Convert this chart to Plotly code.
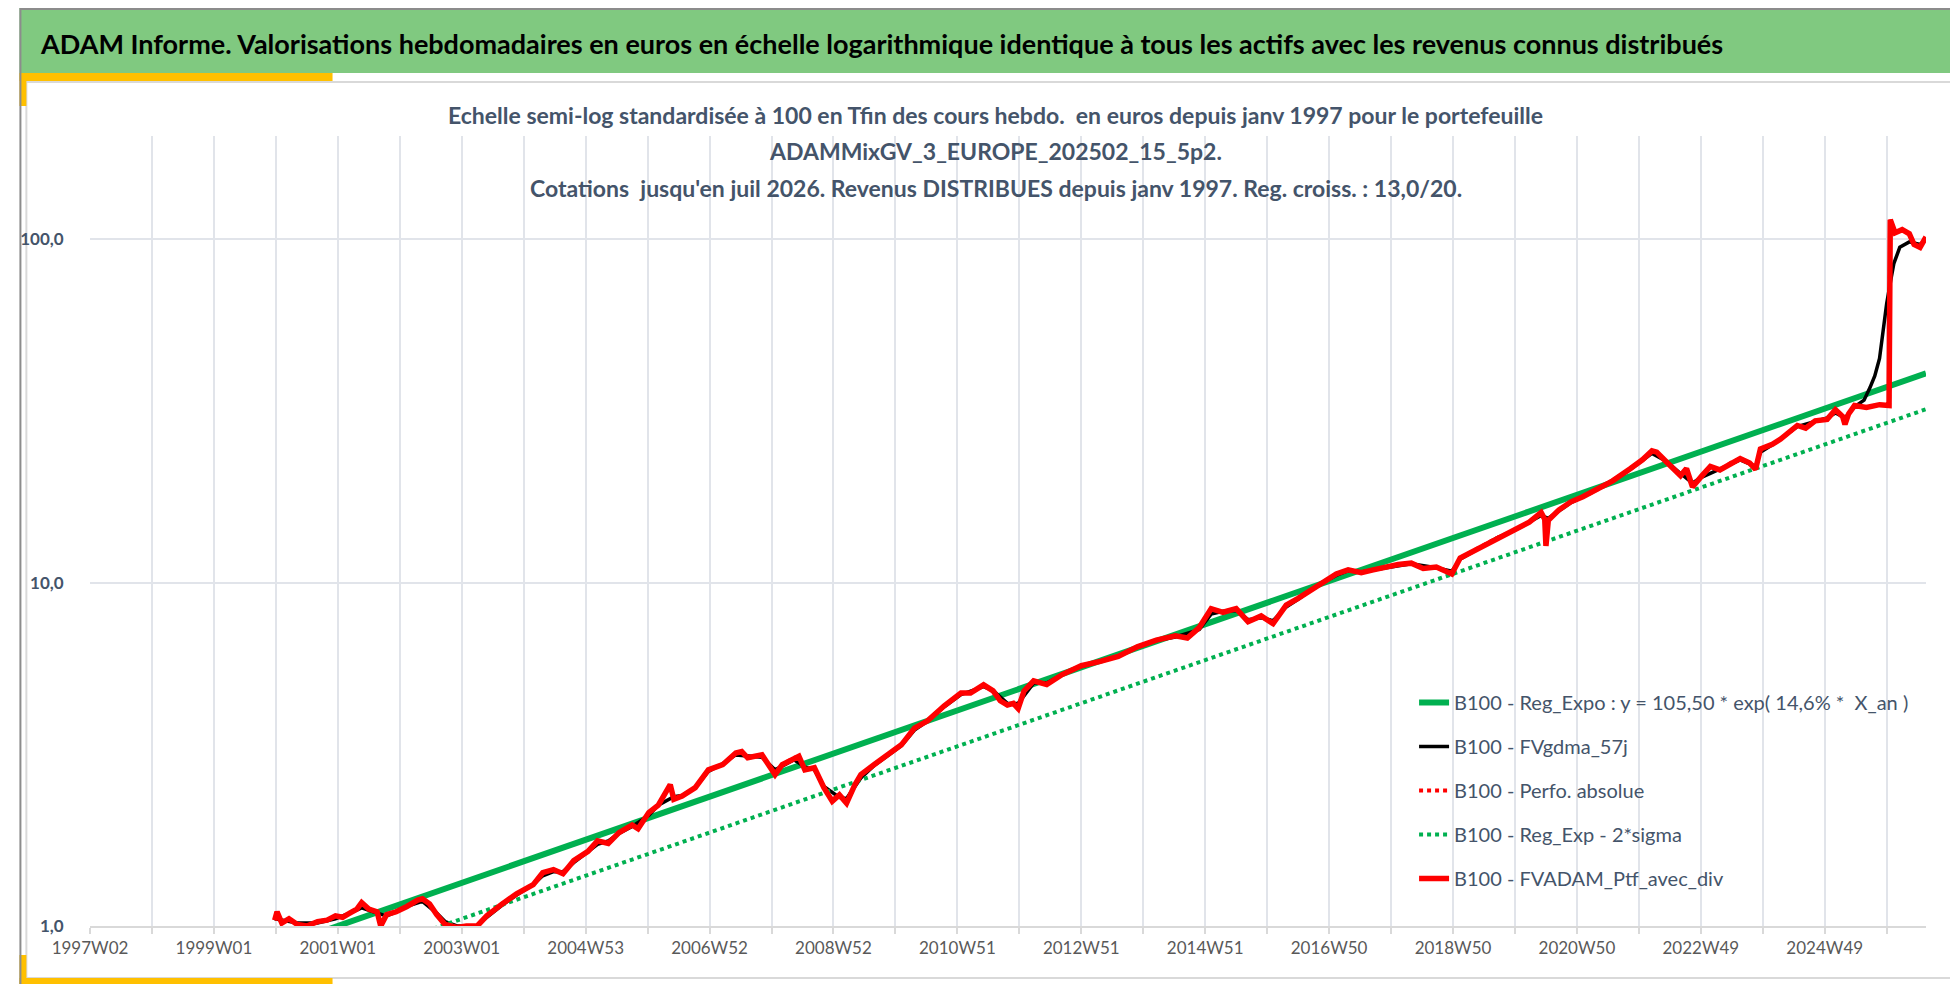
import datetime as dt
import plotly.graph_objects as go

# ---------------- data ----------------
tick_labels = ["1997W02", "1999W01", "2001W01", "2003W01", "2004W53", "2006W52", "2008W52",
               "2010W51", "2012W51", "2014W51", "2016W50", "2018W50", "2020W50", "2022W49", "2024W49"]
axis_start = "1997W02"
axis_end = "2026W30"

ptf_weeks = ["1999W52", "2000W02", "2000W06", "2000W12", "2000W19", "2000W27", "2000W36", "2000W44", "2000W51",
             "2001W05", "2001W11", "2001W17", "2001W21", "2001W27", "2001W34", "2001W37", "2001W42", "2001W50",
             "2002W07", "2002W16", "2002W20", "2002W26", "2002W32", "2002W39", "2002W49",
             "2003W05", "2003W14", "2003W22", "2003W35", "2003W47",
             "2004W09", "2004W17", "2004W26", "2004W34", "2004W43",
             "2005W02", "2005W10", "2005W19", "2005W28", "2005W39", "2005W44",
             "2006W01", "2006W09", "2006W19", "2006W22", "2006W29", "2006W40", "2006W51",
             "2007W11", "2007W22", "2007W27", "2007W32", "2007W44", "2007W49",
             "2008W03", "2008W09", "2008W19", "2008W23", "2008W28", "2008W36", "2008W44", "2008W51",
             "2009W05", "2009W11", "2009W18", "2009W23", "2009W34", "2009W45",
             "2010W04", "2010W15", "2010W26", "2010W40",
             "2011W02", "2011W10", "2011W21", "2011W29", "2011W35", "2011W41", "2011W46", "2011W50",
             "2012W03", "2012W11", "2012W22", "2012W35", "2012W51",
             "2013W15", "2013W30", "2013W46",
             "2014W10", "2014W26", "2014W36", "2014W46",
             "2015W04", "2015W14", "2015W25", "2015W35", "2015W46",
             "2016W03", "2016W14", "2016W24", "2016W40",
             "2017W04", "2017W14", "2017W25", "2017W35", "2017W46",
             "2018W04", "2018W15", "2018W25", "2018W36", "2018W49",
             "2019W04", "2019W20", "2019W35", "2019W51",
             "2020W10", "2020W20", "2020W23", "2020W24", "2020W26", "2020W35", "2020W45",
             "2021W02", "2021W12", "2021W27", "2021W42", "2021W52",
             "2022W08", "2022W12", "2022W20", "2022W32", "2022W37", "2022W42", "2022W50",
             "2023W05", "2023W13", "2023W22", "2023W30", "2023W38", "2023W43", "2023W47",
             "2024W05", "2024W12", "2024W20", "2024W26", "2024W33", "2024W41", "2024W51",
             "2025W06", "2025W12", "2025W14", "2025W17", "2025W22", "2025W32", "2025W43", "2025W51", "2025W52",
             "2026W04", "2026W10", "2026W16", "2026W20", "2026W25", "2026W30"]
ptf_values = [1.04, 1.10, 1.02, 1.05, 1.01, 1.00, 1.03, 1.04, 1.07,
              1.06, 1.09, 1.12, 1.17, 1.12, 1.10, 1.00, 1.08, 1.10,
              1.14, 1.19, 1.20, 1.16, 1.08, 1.01, 0.99,
              1.00, 1.00, 1.07, 1.16, 1.24,
              1.32, 1.43, 1.46, 1.42, 1.55,
              1.65, 1.77, 1.74, 1.87, 1.97, 1.92,
              2.14, 2.25, 2.58, 2.34, 2.39, 2.53, 2.85,
              2.95, 3.19, 3.22, 3.09, 3.15, 2.95,
              2.76, 2.95, 3.09, 3.12, 2.85, 2.89, 2.53, 2.31,
              2.41, 2.28, 2.58, 2.76, 2.95, 3.13,
              3.37, 3.77, 3.96, 4.38,
              4.77, 4.77, 5.04, 4.84, 4.53, 4.40, 4.45, 4.30,
              4.84, 5.18, 5.05, 5.40, 5.73,
              5.90, 6.10, 6.50,
              6.80, 7.00, 6.90, 7.40,
              8.40, 8.20, 8.40, 7.70, 8.00,
              7.60, 8.60, 9.00, 9.80,
              10.6, 10.9, 10.7, 10.9, 11.1,
              11.3, 11.4, 11.0, 11.1, 10.6,
              11.8, 12.6, 13.5, 14.3,
              15.0, 16.0, 15.3, 12.8, 15.2, 16.3, 17.2,
              17.8, 18.5, 19.8, 21.5, 22.8,
              24.2, 24.0, 22.5, 20.5, 21.5, 19.0, 20.5,
              21.8, 21.3, 22.3, 23.0, 22.3, 21.4, 24.5,
              25.3, 26.2, 27.5, 28.7, 28.2, 29.6, 29.9,
              31.9, 30.5, 28.9, 31.0, 32.8, 32.4, 33.0, 32.8, 114.0,
              104.5, 106.7, 103.8, 96.6, 94.8, 101.6]

mma_weeks = ["1999W52", "2000W06", "2000W19", "2000W36", "2000W51", "2001W11", "2001W21", "2001W34", "2001W42",
             "2001W50", "2002W07", "2002W20", "2002W32", "2002W39", "2002W49", "2003W14", "2003W22", "2003W35",
             "2003W47", "2004W09", "2004W17", "2004W26", "2004W34", "2004W43", "2005W02", "2005W10", "2005W19",
             "2005W28", "2005W39", "2006W01", "2006W09", "2006W22", "2006W29", "2006W40", "2006W51", "2007W11",
             "2007W22", "2007W32", "2007W44", "2008W03", "2008W19", "2008W28", "2008W36", "2008W44", "2009W05",
             "2009W11", "2009W23", "2009W34", "2009W45", "2010W04", "2010W15", "2010W26", "2010W40", "2011W02",
             "2011W21", "2011W29", "2011W41", "2011W50", "2012W11", "2012W22", "2012W35", "2012W51", "2013W15",
             "2013W30", "2013W46", "2014W10", "2014W26", "2014W46", "2015W04", "2015W14", "2015W25", "2015W35",
             "2015W46", "2016W03", "2016W14", "2016W24", "2016W40", "2017W04", "2017W14", "2017W25", "2017W46",
             "2018W15", "2018W36", "2018W49", "2019W04", "2019W20", "2019W35", "2019W51", "2020W10", "2020W20",
             "2020W26", "2020W35", "2020W45", "2021W12", "2021W42", "2022W08", "2022W20", "2022W32", "2022W42",
             "2022W50", "2023W13", "2023W30", "2023W43", "2023W47", "2024W05", "2024W26", "2024W41", "2024W51",
             "2025W06", "2025W14", "2025W22", "2025W30", "2025W35", "2025W39", "2025W43", "2025W46", "2025W49",
             "2026W01", "2026W03", "2026W08", "2026W16", "2026W25", "2026W30"]
mma_values = [1.05, 1.04, 1.02, 1.02, 1.05, 1.09, 1.13, 1.09, 1.07,
              1.10, 1.14, 1.18, 1.09, 1.03, 1.00, 1.00, 1.06, 1.15,
              1.23, 1.32, 1.40, 1.44, 1.44, 1.53, 1.65, 1.73, 1.77,
              1.86, 1.95, 2.10, 2.25, 2.38, 2.40, 2.53, 2.82, 2.97,
              3.15, 3.12, 3.10, 2.85, 3.05, 2.90, 2.85, 2.55, 2.37,
              2.35, 2.70, 2.93, 3.12, 3.35, 3.72, 3.95, 4.35, 4.72,
              4.98, 4.85, 4.45, 4.45, 5.10, 5.10, 5.40, 5.70, 5.90,
              6.10, 6.50, 6.80, 6.95, 7.30, 8.10, 8.25, 8.30, 7.80,
              7.90, 7.75, 8.50, 8.95, 9.80, 10.5, 10.85, 10.75, 11.05,
              11.35, 11.05, 10.8, 11.7, 12.6, 13.5, 14.3, 15.0, 15.7,
              15.4, 16.2, 17.1, 18.5, 21.4, 23.8, 22.6, 20.8, 19.5,
              20.3, 21.4, 22.8, 21.8, 24.0, 25.2, 28.5, 29.5, 30.2,
              31.2, 30.2, 32.5, 34.0, 37.0, 40.0, 45.0, 55.0, 65.0,
              78.0, 85.0, 94.8, 98.3, 96.6, 100.0]

reg_weeks = ["1999W52", "2026W30"]
reg_values = [0.863, 40.7]
reg_2sigma_values = [0.678, 32.0]

names = ["B100 - Reg_Expo : y = 105,50 * exp( 14,6% *  X_an )",
         "B100 - FVgdma_57j",
         "B100 - Perfo. absolue",
         "B100 - Reg_Exp - 2*sigma",
         "B100 - FVADAM_Ptf_avec_div"]

title_text = ("ADAM Informe. Valorisations hebdomadaires en euros en échelle logarithmique identique "
              "à tous les actifs avec les revenus connus distribués")
subtitle_lines = ["Echelle semi-log standardisée à 100 en Tfin des cours hebdo.  en euros depuis janv 1997 pour le portefeuille",
                  "ADAMMixGV_3_EUROPE_202502_15_5p2.",
                  "Cotations  jusqu'en juil 2026. Revenus DISTRIBUES depuis janv 1997. Reg. croiss. : 13,0/20."]
y_ticks = [1, 10, 100]
y_tick_text = ["1,0", "10,0", "100,0"]


# ---------------- helpers ----------------
ORIGIN = dt.date.fromisocalendar(int(axis_start[:4]), int(axis_start[5:]), 1)


def week_index(label):
    d = dt.date.fromisocalendar(int(label[:4]), int(label[5:]), 1)
    return (d - ORIGIN).days // 7


W, H = 1958, 984
PL, PR, PT, PB = 71, 1918, 128, 918


def X(px):
    return (px - PL) / (PR - PL)


def Y(py):
    return (PB - py) / (PB - PT)


FONT = "Lato, Carlito, Calibri, sans-serif"
GREEN = "#00B050"
RED = "#FF0000"
SLATE = "#44546A"

ptf_x = [week_index(w) for w in ptf_weeks]
mma_x = [week_index(w) for w in mma_weeks]
reg_x = [week_index(w) for w in reg_weeks]

fig = go.Figure()
fig.add_trace(go.Scatter(x=reg_x, y=reg_values, mode="lines", name=names[0], legendgroup="a",
                         line=dict(color=GREEN, width=6)))
fig.add_trace(go.Scatter(x=mma_x, y=mma_values, mode="lines", name=names[1], legendgroup="b",
                         line=dict(color="#000000", width=3.5)))
fig.add_trace(go.Scatter(x=ptf_x, y=ptf_values, mode="lines", name=names[2], legendgroup="c",
                         line=dict(color=RED, width=4, dash="dot")))
fig.add_trace(go.Scatter(x=reg_x, y=reg_2sigma_values, mode="lines", name=names[3], legendgroup="d",
                         line=dict(color=GREEN, width=4, dash="dot")))
fig.add_trace(go.Scatter(x=ptf_x, y=ptf_values, mode="lines", name=names[4], legendgroup="e",
                         line=dict(color=RED, width=5.5)))

# x ticks: labelled every 104 weeks, gridline every 52 weeks
label_idx = [week_index(t) for t in tick_labels]
tickvals, ticktext = [], []
for i, v in enumerate(label_idx):
    tickvals.append(v)
    ticktext.append(tick_labels[i])
    tickvals.append(v + 52)
    ticktext.append("")

grid_c = "#E1E4EA"
fig.update_xaxes(range=[0, week_index(axis_end)], tickmode="array", tickvals=tickvals, ticktext=ticktext,
                 showgrid=True, gridcolor=grid_c, gridwidth=1.5, zeroline=False,
                 showline=True, linecolor="#D9D9D9", linewidth=1.5,
                 ticks="outside", ticklen=6, tickcolor="#D9D9D9", tickwidth=1.5,
                 tickfont=dict(family=FONT, size=17, color="#595959"), tickangle=0)
fig.update_yaxes(type="log", range=[0, 2.30103], tickmode="array", tickvals=y_ticks, ticktext=y_tick_text,
                 showgrid=True, gridcolor=grid_c, gridwidth=1.5, zeroline=False, showline=False,
                 ticks="outside", ticklen=22, tickcolor="rgba(0,0,0,0)",
                 tickfont=dict(family=FONT, size=17, color=SLATE, weight="bold"))

shapes = []


def rect(x0, y0, x1, y1, fill=None, line=None, lw=0):
    shapes.append(dict(type="rect", xref="paper", yref="paper", x0=X(x0), x1=X(x1), y0=Y(y1), y1=Y(y0),
                       fillcolor=fill if fill else "rgba(0,0,0,0)",
                       line=dict(color=line if line else "rgba(0,0,0,0)", width=lw), layer="below"))


rect(0, 0, W, 65, fill="#80C980")
rect(7, 74, 1951, 970, line="#D9D9D9", lw=2)
gold = "#FFC000"
rect(0, 65, 315, 73, fill=gold)
rect(0, 65, 7, 98, fill=gold)
rect(0, 947, 7, 978, fill=gold)
rect(0, 970, 315, 978, fill=gold)
rect(1954, 76, W, 122, fill=gold)
rect(1954, 930, W, 970, fill=gold)
rect(1, 1, W - 1, H - 1, line="#8C8C8C", lw=2)

annotations = [dict(xref="paper", yref="paper", x=X(19), y=Y(35), xanchor="left", yanchor="middle",
                    text="<b>" + title_text + "</b>", showarrow=False,
                    font=dict(family=FONT, size=27, color="#000000"))]
for i, (line, py) in enumerate(zip(subtitle_lines, [107, 143, 180])):
    annotations.append(dict(xref="paper", yref="paper", x=X(982), y=Y(py), xanchor="center", yanchor="middle",
                            text="<b>" + line + "</b>", showarrow=False,
                            font=dict(family=FONT, size=23, color=SLATE)))

fig.update_layout(
    width=W, height=H, autosize=False,
    margin=dict(l=PL, r=W - PR, t=PT, b=H - PB),
    paper_bgcolor="white", plot_bgcolor="white",
    font=dict(family=FONT, color=SLATE),
    shapes=shapes, annotations=annotations,
    showlegend=True,
    legend=dict(x=X(1403), y=Y(675), xanchor="left", yanchor="top", bgcolor="rgba(0,0,0,0)",
                font=dict(family=FONT, size=20, color=SLATE), tracegroupgap=15, traceorder="grouped"),
)

fig.write_html("out.html")
